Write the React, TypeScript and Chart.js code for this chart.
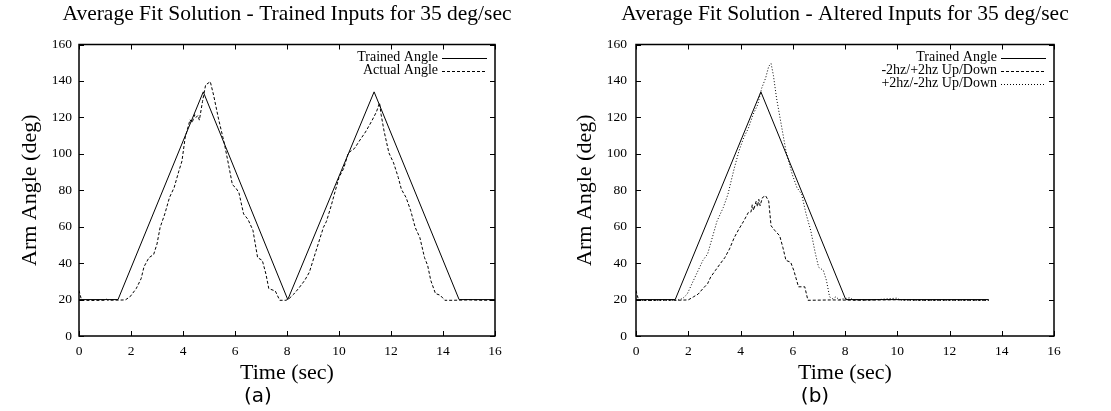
import React, { useEffect, useRef } from "react";
import { Chart, registerables } from "chart.js";

Chart.register(...registerables);

const SERIF = "'Liberation Serif', 'Times New Roman', Times, serif";
const SANS = "'DejaVu Sans', 'Noto Sans', sans-serif";

// ---------- shared axis ticks / labels ----------
const xTicks = [0, 2, 4, 6, 8, 10, 12, 14, 16];
const yTicks = [0, 20, 40, 60, 80, 100, 120, 140, 160];
const xLabel = "Time (sec)";
const yLabel = "Arm Angle (deg)";

// ---------- panel (a) ----------
const titleA = "Average Fit Solution - Trained Inputs for 35 deg/sec";
const captionA = "(a)";
const trainedTimeA = [0, 1.5, 4.78, 8.03, 11.35, 14.62, 16];
const trainedAngleA = [20, 20, 134, 20, 134, 20, 20];
const actualTimeA = [
  0, 0.1, 0.5, 1.0, 1.05, 1.1, 1.5, 1.78, 1.96, 2.2, 2.39, 2.5, 2.69, 2.87, 3.0,
  3.12, 3.3, 3.48, 3.66, 3.84, 3.96, 4.08, 4.27, 4.35, 4.45, 4.5, 4.57, 4.63,
  4.75, 4.87, 5.05, 5.18, 5.36, 5.6, 5.78, 5.9, 6.02, 6.15, 6.33, 6.5, 6.69,
  6.87, 7.05, 7.19, 7.3, 7.55, 7.72, 7.96, 8.08, 8.26, 8.44, 8.68, 8.86, 8.98,
  9.16, 9.4, 9.52, 9.7, 9.82, 10.0, 10.18, 10.36, 10.6, 10.78, 11.02, 11.26,
  11.44, 11.56, 11.62, 11.74, 11.92, 12.1, 12.28, 12.4, 12.58, 12.76, 12.93,
  13.11, 13.29, 13.41, 13.53, 13.71, 13.89, 14.07, 14.37, 15.0, 15.5, 16.0,
];
const actualAngleA = [
  25, 19.6, 19.5, 19.6, 20.2, 19.6, 19.7, 19.8, 21.5, 26, 31.5, 38, 43, 44.7,
  50.5, 59.6, 67, 76, 81.5, 90.5, 96, 108.7, 118.7, 117, 121.5, 120, 121, 118.5,
  128.7, 137.8, 139.6, 132, 119.6, 105, 92, 83, 81.5, 78.7, 67, 64, 58, 43,
  41.5, 34, 26, 24.7, 19.6, 19.6, 20.5, 23, 26, 30.5, 35, 40.5, 48.7, 59.6, 63,
  71.5, 77.8, 87, 92, 100.5, 103, 107, 112, 118, 123, 128, 121.5, 112, 100.5,
  95, 87, 80.5, 76, 68.7, 59.6, 54, 43, 38.7, 30.5, 23.3, 22.4, 19.6, 19.6,
  19.8, 19.6, 19.7,
];

// ---------- panel (b) ----------
const titleB = "Average Fit Solution - Altered Inputs for 35 deg/sec";
const captionB = "(b)";
const trainedTimeB = [0, 1.5, 4.78, 8.03, 13.5];
const trainedAngleB = [20, 20, 134, 20, 20];
const downUpTimeB = [
  0, 0.1, 0.6, 1.0, 1.5, 2.0, 2.2, 2.38, 2.56, 2.74, 2.86, 3.04, 3.22, 3.4,
  3.58, 3.76, 3.94, 4.12, 4.3, 4.4, 4.45, 4.5, 4.6, 4.65, 4.7, 4.75, 4.84,
  4.96, 5.08, 5.17, 5.32, 5.5, 5.62, 5.74, 5.92, 6.04, 6.22, 6.46, 6.58, 7.5,
  8.5, 10.0, 11.0, 12.0, 13.5,
];
const downUpAngleB = [
  25, 19.6, 19.5, 19.7, 19.6, 19.8, 21.5, 23, 26, 28.7, 32.4, 36, 39.6, 43,
  47.8, 54, 58.7, 63, 67.8, 68, 72, 69, 74, 71, 75, 71.5, 76, 77, 74, 60.5,
  57.8, 55, 48.7, 41.5, 40.5, 36, 27, 27, 19.6, 19.8, 19.6, 19.9, 19.6, 19.7,
  19.6,
];
const upDownTimeB = [
  0, 1.0, 1.6, 1.78, 1.96, 2.2, 2.38, 2.56, 2.74, 2.92, 3.1, 3.34, 3.52, 3.64,
  3.76, 3.94, 4.12, 4.3, 4.48, 4.66, 4.81, 4.96, 5.08, 5.17, 5.26, 5.38, 5.56,
  5.74, 5.98, 6.16, 6.34, 6.51, 6.69, 6.87, 6.99, 7.17, 7.29, 7.41, 7.53, 7.65,
  7.77, 8.2, 8.3, 9.0, 10.0, 10.1, 11.0, 13.5,
];
const upDownAngleB = [
  19.6, 19.6, 19.7, 20.5, 23, 30.5, 36, 41.5, 45, 54, 63, 70.5, 77.8, 85, 92,
  101.5, 108.7, 114, 121.5, 127, 136, 141.5, 148, 149.6, 143, 130.5, 116, 101.5,
  88.7, 81.5, 77.8, 67, 57.8, 45, 37.8, 36, 30.5, 21.5, 20.5, 21.5, 20, 21,
  19.8, 19.7, 20.8, 19.7, 19.6, 19.6,
];

const zip = (xs: number[], ys: number[]) => xs.map((x, i) => ({ x, y: ys[i] }));

const SOLID: number[] = [];
const DASHED = [3, 2];
const DOTTED = [1, 2];

const framePlugin = {
  id: "gnuFrame",
  afterDatasetsDraw(chart: any) {
    const { ctx, chartArea } = chart;
    const { left, right, top, bottom } = chartArea;
    const x = chart.scales.x;
    const y = chart.scales.y;
    const L = 5;
    ctx.save();
    ctx.strokeStyle = "#000";
    ctx.lineWidth = 1;
    ctx.setLineDash([]);
    ctx.beginPath();
    x.ticks.forEach((t: any) => {
      const px = Math.round(x.getPixelForValue(t.value)) + 0.5;
      ctx.moveTo(px, bottom);
      ctx.lineTo(px, bottom - L);
      ctx.moveTo(px, top);
      ctx.lineTo(px, top + L);
    });
    y.ticks.forEach((t: any) => {
      const py = Math.round(y.getPixelForValue(t.value)) + 0.5;
      ctx.moveTo(left, py);
      ctx.lineTo(left + L, py);
      ctx.moveTo(right, py);
      ctx.lineTo(right - L, py);
    });
    ctx.stroke();
    ctx.lineWidth = 1.5;
    ctx.strokeRect(left, top, right - left, bottom - top);
    ctx.restore();
  },
};

const legendPlugin = {
  id: "gnuLegend",
  afterDraw(chart: any, _args: any, opts: any) {
    const { ctx, chartArea } = chart;
    ctx.save();
    ctx.font = `14px ${SERIF}`;
    ctx.textAlign = "right";
    ctx.textBaseline = "middle";
    ctx.fillStyle = "#000";
    chart.data.datasets.forEach((ds: any, i: number) => {
      const yy = chartArea.top + opts.firstRow + i * opts.rowHeight;
      const lineEnd = chartArea.right - opts.lineInset;
      const lineStart = lineEnd - opts.lineLength;
      ctx.fillText(ds.label, lineStart - opts.gap, yy);
      ctx.beginPath();
      ctx.setLineDash(ds.borderDash || []);
      ctx.lineWidth = 1;
      ctx.strokeStyle = "#000";
      const ly = Math.round(yy) + 0.5;
      ctx.moveTo(lineStart, ly);
      ctx.lineTo(lineEnd, ly);
      ctx.stroke();
    });
    ctx.restore();
  },
};

type Series = { label: string; times: number[]; values: number[]; dash: number[] };

function Panel(props: {
  left: number;
  width: number;
  axisW: number;
  tickPad: number;
  title: string;
  series: Series[];
}) {
  const ref = useRef<HTMLCanvasElement>(null);
  useEffect(() => {
    if (!ref.current) return;
    const { axisW, tickPad, title, series } = props;
    const chart = new Chart(ref.current, {
      type: "line",
      data: {
        datasets: series.map((s) => ({
          label: s.label,
          data: zip(s.times, s.values),
          borderColor: "#000",
          backgroundColor: "#000",
          borderWidth: 1,
          borderDash: s.dash,
          pointRadius: 0,
          tension: 0,
          fill: false,
          yAxisID: "y",
        })),
      },
      options: {
        responsive: false,
        animation: false,
        events: [],
        layout: { padding: { left: 0, right: 0, top: 0, bottom: 26 } },
        plugins: {
          legend: { display: false },
          tooltip: { enabled: false },
          title: {
            display: true,
            text: title,
            color: "#000",
            font: { family: SERIF, size: 21.5, weight: "normal", lineHeight: 1 },
            padding: { top: 3.5, bottom: 19.5 },
          },
          gnuLegend: { firstRow: 13, rowHeight: 13, lineInset: 8, lineLength: 45, gap: 4 },
        } as any,
        scales: {
          x: {
            type: "linear",
            min: 0,
            max: 16,
            afterBuildTicks: (s: any) => {
              s.ticks = xTicks.map((v) => ({ value: v }));
            },
            afterFit: (s: any) => {
              s.height = 49;
            },
            grid: { display: false, drawTicks: false },
            border: { display: false },
            ticks: {
              padding: 7,
              color: "#000",
              maxRotation: 0,
              font: { family: SERIF, size: 13.5 },
            },
            title: {
              display: true,
              text: xLabel,
              color: "#000",
              font: { family: SERIF, size: 22, lineHeight: 1 },
              padding: { top: 0, bottom: 1 },
            },
          },
          y: {
            type: "linear",
            position: "left",
            min: 0,
            max: 160,
            afterBuildTicks: (s: any) => {
              s.ticks = yTicks.map((v) => ({ value: v }));
            },
            afterFit: (s: any) => {
              s.width = axisW;
            },
            grid: { display: false, drawTicks: false },
            border: { display: false },
            ticks: {
              padding: tickPad,
              color: "#000",
              font: { family: SERIF, size: 13.5 },
            },
            title: {
              display: true,
              text: yLabel,
              color: "#000",
              font: { family: SERIF, size: 22, lineHeight: 1 },
              padding: { top: 19, bottom: 0 },
            },
          },
          y2: {
            type: "linear",
            position: "right",
            display: true,
            afterFit: (s: any) => {
              s.width = axisW;
            },
            grid: { display: false, drawTicks: false },
            border: { display: false },
            ticks: { display: false },
          },
        },
      } as any,
      plugins: [framePlugin, legendPlugin],
    });
    return () => chart.destroy();
  }, []);
  return (
    <canvas
      ref={ref}
      width={props.width}
      height={411}
      style={{ position: "absolute", left: props.left, top: 0, width: props.width, height: 411 }}
    />
  );
}

export default function App() {
  const seriesA: Series[] = [
    { label: "Trained Angle", times: trainedTimeA, values: trainedAngleA, dash: SOLID },
    { label: "Actual Angle", times: actualTimeA, values: actualAngleA, dash: DASHED },
  ];
  const seriesB: Series[] = [
    { label: "Trained Angle", times: trainedTimeB, values: trainedAngleB, dash: SOLID },
    { label: "-2hz/+2hz Up/Down", times: downUpTimeB, values: downUpAngleB, dash: DASHED },
    { label: "+2hz/-2hz Up/Down", times: upDownTimeB, values: upDownAngleB, dash: DOTTED },
  ];
  const caption: React.CSSProperties = {
    position: "absolute",
    top: 383,
    width: 100,
    textAlign: "center",
    fontFamily: SANS,
    fontSize: 20,
    lineHeight: "24px",
    color: "#000",
  };
  return (
    <div
      style={{
        position: "absolute",
        left: 0,
        top: 0,
        width: 1111,
        height: 411,
        overflow: "hidden",
        background: "#fff",
      }}
    >
      <Panel left={555} width={580} axisW={81} tickPad={9} title={titleB} series={seriesB} />
      <Panel left={0} width={574} axisW={79} tickPad={7} title={titleA} series={seriesA} />
      <div style={{ ...caption, left: 258 - 50 }}>{captionA}</div>
      <div style={{ ...caption, left: 815 - 50 }}>{captionB}</div>
    </div>
  );
}
